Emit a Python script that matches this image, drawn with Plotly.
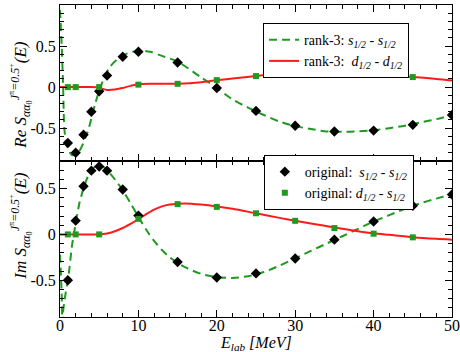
import plotly.graph_objects as go
from plotly.subplots import make_subplots

# energies of the original (exact) calculation
e_orig = [1, 2, 3, 4, 5, 6, 8, 10, 15, 20, 25, 30, 35, 40, 45, 50]
re_ss_orig = [-0.68, -0.80, -0.58, -0.30, -0.05, 0.14, 0.37, 0.43, 0.30, -0.01,
              -0.29, -0.47, -0.54, -0.53, -0.46, -0.34]
im_ss_orig = [-0.50, 0.15, 0.525, 0.695, 0.74, 0.695, 0.49, 0.205, -0.30, -0.47,
              -0.425, -0.262, -0.057, 0.14, 0.313, 0.435]

e_orig_ds = [1, 2, 5, 10, 15, 20, 25, 30, 35, 40, 45]
re_ds_orig = [0.0, 0.0, 0.0, 0.03, 0.04, 0.085, 0.134, 0.178, 0.178, 0.154, 0.122]
im_ds_orig = [0.0, 0.0, 0.0, 0.17, 0.33, 0.30, 0.23, 0.148, 0.069, 0.008, -0.032]

# rank-3 separable curves
e_re_ss = [0, 0.2, 0.4, 0.57, 0.9, 1.55, 2.4, 3.47, 4.5, 5.2, 6.4, 8.1, 10.1, 11.5,
           13, 15, 17.9, 20, 22, 24, 26, 28, 30, 32, 34, 36, 38, 40, 42, 44, 46, 48, 50]
re_ss_rank3 = [0.94, 0.54, 0.0, -0.52, -0.72, -0.83, -0.785, -0.56, -0.2, 0.01, 0.25,
               0.39, 0.445, 0.43, 0.38, 0.31, 0.125, -0.01, -0.15, -0.25, -0.34, -0.42,
               -0.475, -0.51, -0.54, -0.545, -0.54, -0.525, -0.5, -0.47, -0.43, -0.39, -0.34]

e_re_dd = [0, 2, 4, 5, 6, 7, 8, 9, 10, 12, 15, 18, 20, 22, 25, 28, 30, 32, 34, 36, 38,
           40, 42, 45, 48, 50]
re_dd_rank3 = [0.0, 0.0, 0.0, -0.01, -0.035, -0.03, -0.01, 0.015, 0.035, 0.04, 0.042,
               0.06, 0.085, 0.105, 0.135, 0.165, 0.178, 0.183, 0.182, 0.176, 0.166,
               0.154, 0.14, 0.122, 0.1, 0.08]

e_im_ss = [0, 0.12, 0.24, 0.3, 0.36, 0.7, 1.0, 1.12, 1.55, 1.9, 2.5, 3, 3.5, 4, 4.5, 5,
           5.5, 6, 7, 8, 9, 10, 11, 12, 13, 14, 15, 16, 18, 20, 22, 24, 26, 28, 30, 32,
           34, 36, 38, 40, 42, 44, 46, 48, 50]
im_ss_rank3 = [-0.22, -0.45, -0.73, -1.1, -0.87, -0.65, -0.5, -0.43, -0.11, 0.07, 0.35,
               0.5, 0.62, 0.7, 0.74, 0.75, 0.74, 0.70, 0.60, 0.48, 0.34, 0.19, 0.05,
               -0.07, -0.17, -0.25, -0.31, -0.36, -0.43, -0.465, -0.475, -0.455, -0.41,
               -0.34, -0.26, -0.18, -0.1, -0.02, 0.06, 0.14, 0.21, 0.28, 0.34, 0.39, 0.44]

e_im_dd = [0, 2, 4, 5, 6, 7, 8, 9, 10, 11, 12, 13, 14, 15, 16, 18, 20, 22, 25, 28, 30,
           32, 35, 38, 40, 42, 45, 48, 50]
im_dd_rank3 = [0.0, 0.0, 0.0, 0.0, 0.01, 0.035, 0.07, 0.115, 0.165, 0.22, 0.27, 0.305,
               0.325, 0.335, 0.338, 0.325, 0.305, 0.28, 0.23, 0.18, 0.148, 0.12, 0.075,
               0.035, 0.012, -0.005, -0.03, -0.048, -0.057]

ytick_top = [-0.5, 0, 0.5, 1]
ytick_top_txt = ["-0.5", "0", "0.5", "1"]
ytick_bot = [-0.5, 0, 0.5]
ytick_bot_txt = ["-0.5", "0", "0.5"]
xtick = [0, 10, 20, 30, 40, 50]

GREEN = "#1f9a1f"
RED = "#ff1a1a"
FONT = "Liberation Serif, Times New Roman, serif"

fig = make_subplots(rows=2, cols=1, shared_xaxes=True, vertical_spacing=0)

dash = "8px,5px"

fig.add_trace(go.Scatter(x=e_re_ss, y=re_ss_rank3, mode="lines", line_shape="spline",
                         line=dict(color=GREEN, width=2, dash=dash, smoothing=0.8),
                         name="rank-3: <i>s</i><sub><i>1/2</i></sub> - <i>s</i><sub><i>1/2</i></sub>",
                         legend="legend"), row=1, col=1)
fig.add_trace(go.Scatter(x=e_re_dd, y=re_dd_rank3, mode="lines", line_shape="spline",
                         line=dict(color=RED, width=2, smoothing=0.8),
                         name="rank-3:  <i>d</i><sub><i>1/2</i></sub> - <i>d</i><sub><i>1/2</i></sub>",
                         legend="legend"), row=1, col=1)
fig.add_trace(go.Scatter(x=e_orig, y=re_ss_orig, mode="markers",
                         marker=dict(symbol="diamond", size=8, color="black"),
                         showlegend=False), row=1, col=1)
fig.add_trace(go.Scatter(x=e_orig_ds, y=re_ds_orig, mode="markers",
                         marker=dict(symbol="square", size=6, color=GREEN),
                         showlegend=False), row=1, col=1)

fig.add_trace(go.Scatter(x=e_im_ss, y=im_ss_rank3, mode="lines", line_shape="spline",
                         line=dict(color=GREEN, width=2, dash=dash, smoothing=0.8),
                         showlegend=False), row=2, col=1)
fig.add_trace(go.Scatter(x=e_im_dd, y=im_dd_rank3, mode="lines", line_shape="spline",
                         line=dict(color=RED, width=2, smoothing=0.8),
                         showlegend=False), row=2, col=1)
fig.add_trace(go.Scatter(x=e_orig, y=im_ss_orig, mode="markers",
                         marker=dict(symbol="diamond", size=8, color="black"),
                         name="original:  <i>s</i><sub><i>1/2</i></sub> - <i>s</i><sub><i>1/2</i></sub>",
                         legend="legend2"), row=2, col=1)
fig.add_trace(go.Scatter(x=e_orig_ds, y=im_ds_orig, mode="markers",
                         marker=dict(symbol="square", size=6, color=GREEN),
                         name="original: <i>d</i><sub><i>1/2</i></sub> - <i>s</i><sub><i>1/2</i></sub>",
                         legend="legend2"), row=2, col=1)

axis_common = dict(showline=True, linecolor="black", linewidth=1, mirror="ticks",
                   ticks="inside", ticklen=7, tickcolor="black", showgrid=False,
                   zeroline=False, automargin=False,
                   tickfont=dict(family=FONT, size=16, color="black"))

fig.update_xaxes(range=[0, 50], tickvals=xtick, ticklabelstandoff=-6,
                 minor=dict(dtick=2, ticks="inside", ticklen=4, tickcolor="black"),
                 **axis_common)
fig.update_xaxes(showticklabels=False, row=1, col=1)

fig.update_yaxes(range=[-0.9, 1], tickvals=ytick_top, ticktext=ytick_top_txt,
                 minor=dict(dtick=0.1, tick0=0, ticks="inside", ticklen=4, tickcolor="black"),
                 row=1, col=1, **axis_common)
fig.update_yaxes(range=[-0.9, 0.8], tickvals=ytick_bot, ticktext=ytick_bot_txt,
                 minor=dict(dtick=0.1, tick0=0, ticks="inside", ticklen=4, tickcolor="black"),
                 row=2, col=1, **axis_common)

# axis titles as annotations so they sit where the original puts them
title_font = dict(family=FONT, size=17, color="black")
ytitle_tail = "<sup><i>J</i><sup>π</sup><i>=0.5</i><sup>+</sup></sup><i>(E)</i>"
fig.add_annotation(text="<i>Re S</i><sub><i>αα</i><sub>0</sub></sub>" + ytitle_tail,
                   xref="paper", yref="paper", x=-0.10, y=0.712, textangle=-90,
                   xanchor="center", yanchor="middle", showarrow=False, font=title_font)
fig.add_annotation(text="<i>Im S</i><sub><i>αα</i><sub>0</sub></sub>" + ytitle_tail,
                   xref="paper", yref="paper", x=-0.10, y=0.292, textangle=-90,
                   xanchor="center", yanchor="middle", showarrow=False, font=title_font)
fig.add_annotation(text="<i>E</i><sub><i>lab</i></sub><i> [MeV]</i>",
                   xref="paper", yref="paper", x=0.5, y=-0.085,
                   xanchor="center", yanchor="middle", showarrow=False,
                   font=dict(family=FONT, size=16, color="black"))

legend_box = dict(bgcolor="white", bordercolor="black", borderwidth=1,
                  font=dict(family=FONT, size=14, color="black"),
                  xanchor="left", yanchor="top", tracegroupgap=0, itemwidth=30)

fig.update_layout(
    width=460, height=352,
    margin=dict(l=60, r=8, t=5, b=35),
    plot_bgcolor="white", paper_bgcolor="white",
    legend=dict(x=0.518, y=0.942, **legend_box),
    legend2=dict(x=0.52, y=0.519, **legend_box),
)

# the page body has an 8px default margin; drop it so the figure fills the window
fig.write_html("out.html", config={"displayModeBar": False},
               post_script="document.body.style.margin='0';")
